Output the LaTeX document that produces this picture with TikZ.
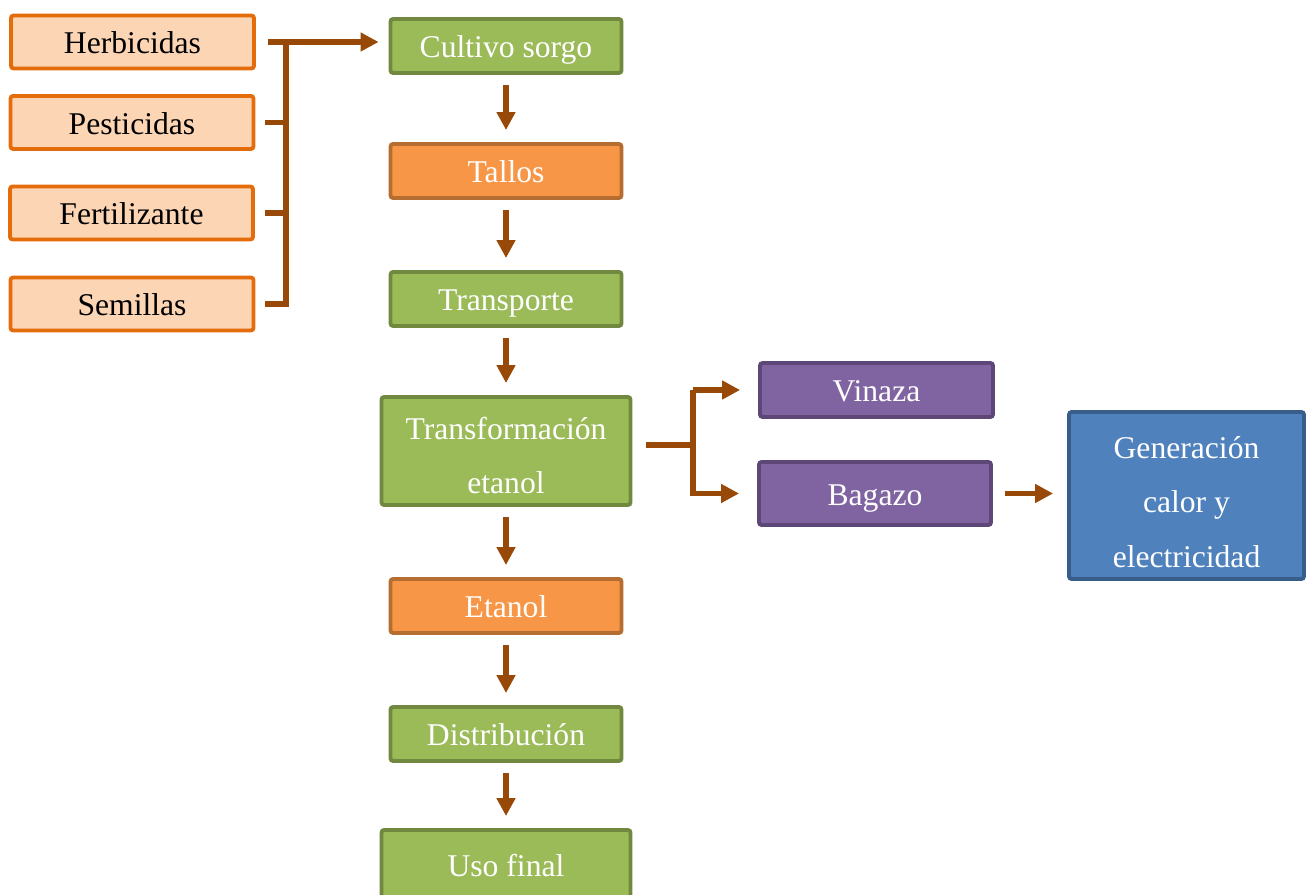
\documentclass[tikz,border=0pt]{standalone}
\usepackage{fontspec}
\setmainfont{Liberation Serif}
\usetikzlibrary{arrows.meta}

\definecolor{peach}{HTML}{FCD5B5}
\definecolor{peachline}{HTML}{E46C0A}
\definecolor{leaf}{HTML}{9BBB59}
\definecolor{leafline}{HTML}{71893F}
\definecolor{amber}{HTML}{F79646}
\definecolor{amberline}{HTML}{B66D31}
\definecolor{plum}{HTML}{8064A2}
\definecolor{plumline}{HTML}{5C4776}
\definecolor{sky}{HTML}{4F81BD}
\definecolor{skyline}{HTML}{385D8A}
\definecolor{rust}{HTML}{984807}

\tikzset{
  box/.style={draw,rectangle,line width=2.2pt,rounded corners=1.5pt,align=center,inner sep=2pt,
    text height=13.5pt,text depth=-3pt,font=\fontsize{18}{31}\selectfont},
  multi/.style={text height=,text depth=},
  input/.style={box,fill=peach,draw=peachline,text=black,minimum width=4.86cm,minimum height=1.06cm},
  stage/.style={box,fill=leaf,draw=leafline,text=white,minimum width=4.62cm,minimum height=1.08cm},
  prod/.style={box,fill=amber,draw=amberline,text=white,minimum width=4.62cm,minimum height=1.08cm},
  byprod/.style={box,fill=plum,draw=plumline,text=white,minimum width=4.66cm,minimum height=1.08cm},
  energy/.style={box,multi,fill=sky,draw=skyline,text=white,minimum width=4.7cm,minimum height=3.34cm},
  link/.style={line width=2.9pt,draw=rust},
  flow/.style={link,-{Triangle[length=0.36cm,width=0.36cm]}},
  down/.style={flow,shorten <=0.2cm,shorten >=0.24cm}
}

\begin{document}
\begin{tikzpicture}
\useasboundingbox (0,0) rectangle (26.18,17.9);

% inputs
\node [input] (herb) at (2.65,17.06) {Herbicidas};
\node [input] (pest) at (2.64,15.45) {Pesticidas};
\node [input] (fert) at (2.63,13.64) {Fertilizante};
\node [input] (semi) at (2.64,11.82) {Semillas};

% main chain
\node [stage] (cult) at (10.12,16.98) {Cultivo sorgo};
\node [prod] (tall) at (10.12,14.48) {Tallos};
\node [stage] (transp) at (10.12,11.92) {Transporte};
\node [stage,multi,minimum width=4.98cm,minimum height=2.16cm] (transf) at (10.12,8.88) {\rule{0pt}{18pt}Transformación\\etanol};
\node [prod] (etan) at (10.12,5.78) {Etanol};
\node [stage] (dist) at (10.12,3.22) {Distribución};
\node [stage,minimum width=4.98cm,minimum height=1.4cm] (uso) at (10.12,0.6) {Uso final};

% by-products
\node [byprod] (vina) at (17.53,10.1) {Vinaza};
\node [byprod,minimum width=4.64cm,minimum height=1.26cm] (bag) at (17.5,8.03) {Bagazo};
\node [energy] (gen) at (23.73,7.99) {\rule{0pt}{20pt}Generación\\calor y\\electricidad};

% bracket of inputs
\coordinate (bus) at (5.72,0);
\draw [flow] ([xshift=0.24cm]herb.east) -- ([xshift=-0.2cm]cult.west |- herb.east);
\draw [link] ([xshift=0.2cm]semi.east) -- (semi.east -| bus) -- (herb.east -| bus);
\draw [link] ([xshift=0.2cm]pest.east) -- (pest.east -| bus);
\draw [link] ([xshift=0.2cm]fert.east) -- (fert.east -| bus);

% chain arrows
\draw [down] (cult) -- (tall);
\draw [down] (tall) -- (transp);
\draw [down] (transp) -- (transf);
\draw [down] (transf) -- (etan);
\draw [down] (etan) -- (dist);
\draw [down] (dist) -- (uso);

% split to vinaza and bagazo
\coordinate (split) at (13.86,0);
\draw [link] ([xshift=0.28cm,yshift=0.12cm]transf.east) -- ([yshift=0.12cm]transf.east -| split);
\draw [flow] (vina.west -| split) -- ([xshift=-0.36cm]vina.west);
\draw [flow] (vina.west -| split) -- (bag.west -| split) -- ([xshift=-0.36cm]bag.west);
\draw [flow] ([xshift=0.24cm]bag.east) -- ([xshift=-0.28cm]bag.east -| gen.west);
\end{tikzpicture}
\end{document}
